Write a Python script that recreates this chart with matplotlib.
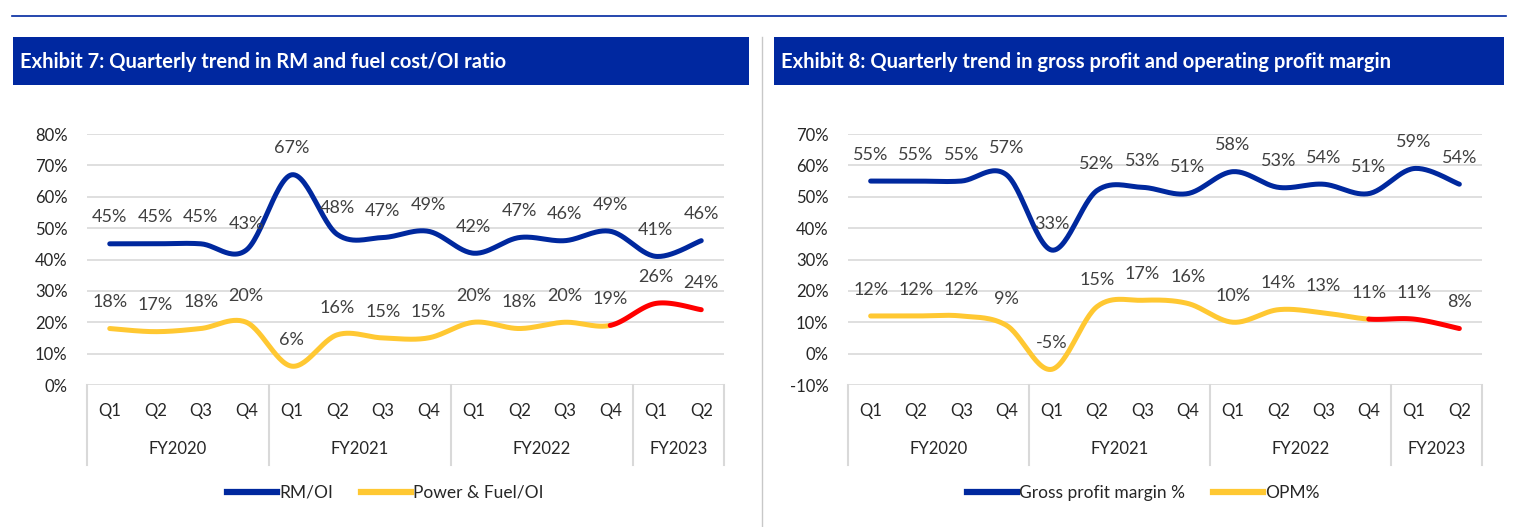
import numpy as np
import matplotlib
matplotlib.use("Agg")
import matplotlib.pyplot as plt
from matplotlib.lines import Line2D
from matplotlib.patches import Rectangle
import matplotlib.transforms as mtransforms

plt.rcParams['font.family'] = ['Lato', 'DejaVu Sans']

quarters = ['Q1', 'Q2', 'Q3', 'Q4', 'Q1', 'Q2', 'Q3', 'Q4', 'Q1', 'Q2', 'Q3', 'Q4', 'Q1', 'Q2']
years = ['FY2020', 'FY2021', 'FY2022', 'FY2023']
year_sizes = [4, 4, 4, 2]

rm_oi = [45, 45, 45, 43, 67, 48, 47, 49, 42, 47, 46, 49, 41, 46]
power_fuel_oi = [18, 17, 18, 20, 6, 16, 15, 15, 20, 18, 20, 19, 26, 24]

gross_margin = [55, 55, 55, 57, 33, 52, 53, 51, 58, 53, 54, 51, 59, 54]
opm = [12, 12, 12, 9, -5, 15, 17, 16, 10, 14, 13, 11, 11, 8]

# index where the lower series turns red
red_from = 11

BLUE = '#00289E'
YELLOW = '#FFC832'
RED = '#FF0000'
GRID = '#D9D9D9'
LABEL = '#404040'
TICK = '#262626'
W, H = 1521, 527


def smooth(xs, ys, lo, hi, n=30):
    # excel-like smoothed line (catmull-rom bezier) over points lo..hi
    xs = np.asarray(xs, float)
    ys = np.asarray(ys, float)
    last = len(xs) - 1
    px, py = [], []
    for i in range(lo, hi):
        a, b = max(i - 1, 0), min(i + 2, last)
        p0 = np.array([xs[i], ys[i]])
        p3 = np.array([xs[i + 1], ys[i + 1]])
        c1 = p0 + (p3 - np.array([xs[a], ys[a]])) / 6
        c2 = p3 - (np.array([xs[b], ys[b]]) - p0) / 6
        t = np.linspace(0, 1, n)[:, None]
        pts = (1 - t) ** 3 * p0 + 3 * (1 - t) ** 2 * t * c1 + 3 * (1 - t) * t ** 2 * c2 + t ** 3 * p3
        px.extend(pts[:, 0])
        py.extend(pts[:, 1])
    return px, py


def panel(rect, top_vals, low_vals, ymin, ymax, title, title_box, names, leg_x):
    ax = fig.add_axes(rect)
    x = np.arange(len(quarters))
    sx, sy = smooth(x, top_vals, 0, len(x) - 1)
    ax.plot(sx, sy, color=BLUE, lw=3.6, solid_capstyle='round', zorder=3)
    sx, sy = smooth(x, low_vals, 0, red_from)
    ax.plot(sx, sy, color=YELLOW, lw=3.6, solid_capstyle='round', zorder=3)
    sx, sy = smooth(x, low_vals, red_from, len(x) - 1)
    ax.plot(sx, sy, color=RED, lw=3.6, solid_capstyle='round', zorder=3)

    for vals in [top_vals, low_vals]:
        for xi, v in zip(x, vals):
            ax.annotate(f'{v}%', (xi, v), xytext=(0, 19), textcoords='offset points',
                        ha='center', va='center', fontsize=13, color=LABEL, zorder=4)

    ax.set_xlim(-0.5, len(x) - 0.5)
    ax.set_ylim(ymin, ymax)
    ax.set_yticks(np.arange(ymin, ymax + 1, 10))
    ax.set_yticklabels([f'{t}%' for t in range(ymin, ymax + 1, 10)])
    ax.yaxis.grid(True, color=GRID, lw=1.2)
    ax.set_axisbelow(True)
    for s in ax.spines.values():
        s.set_visible(False)
    ax.tick_params(axis='y', length=0, pad=14, labelsize=12, labelcolor=TICK)
    ax.set_xticks(x)
    ax.set_xticklabels(quarters)
    ax.tick_params(axis='x', length=0, pad=13, labelsize=12, labelcolor=TICK)

    trans = mtransforms.blended_transform_factory(ax.transData, ax.transAxes)
    bounds = np.concatenate([[0], np.cumsum(year_sizes)]) - 0.5
    for b in bounds:
        ax.plot([b, b], [0, -0.32], color=GRID, lw=1.5, transform=trans, clip_on=False)
    for yr, a, b in zip(years, bounds[:-1], bounds[1:]):
        ax.text((a + b) / 2, -0.256, yr, transform=trans, ha='center', va='center',
                fontsize=12, color=TICK)

    # title bar
    x0, x1 = title_box
    fig.add_artist(Rectangle((x0 / W, 1 - 85 / H), (x1 - x0) / W, 48 / H,
                             transform=fig.transFigure, color='#0028A0', lw=0))
    fig.text((x0 + 7) / W, 1 - 62 / H, title, color='white', fontsize=14.5,
             fontweight='bold', va='center', ha='left')

    handles = [Line2D([], [], color=BLUE, lw=4.5), Line2D([], [], color=YELLOW, lw=4.5)]
    fig.legend(handles, names, loc='center', bbox_to_anchor=(leg_x / W, 1 - 493 / H),
               ncol=2, frameon=False, fontsize=12.5, handlelength=2.9, handletextpad=0.1,
               columnspacing=1.6, labelcolor=TICK)
    return ax


fig = plt.figure(figsize=(W / 100, H / 100), dpi=100)

panel([87 / W, 1 - 385 / H, 637 / W, 251 / H], rm_oi, power_fuel_oi, 0, 80,
      'Exhibit 7: Quarterly trend in RM and fuel cost/OI ratio', (13, 749),
      ['RM/OI', 'Power & Fuel/OI'], 385)
panel([848 / W, 1 - 385 / H, 634 / W, 251 / H], gross_margin, opm, -10, 70,
      'Exhibit 8: Quarterly trend in gross profit and operating profit margin', (774, 1504),
      ['Gross profit margin %', 'OPM%'], 1143)

fig.add_artist(Line2D([12 / W, 1506 / W], [1 - 16 / H, 1 - 16 / H], color='#0028A0', lw=1.2))
fig.add_artist(Line2D([762 / W, 762 / W], [0, 1 - 37 / H], color='#C8C8C8', lw=1))

fig.savefig('out.png', dpi=100)
